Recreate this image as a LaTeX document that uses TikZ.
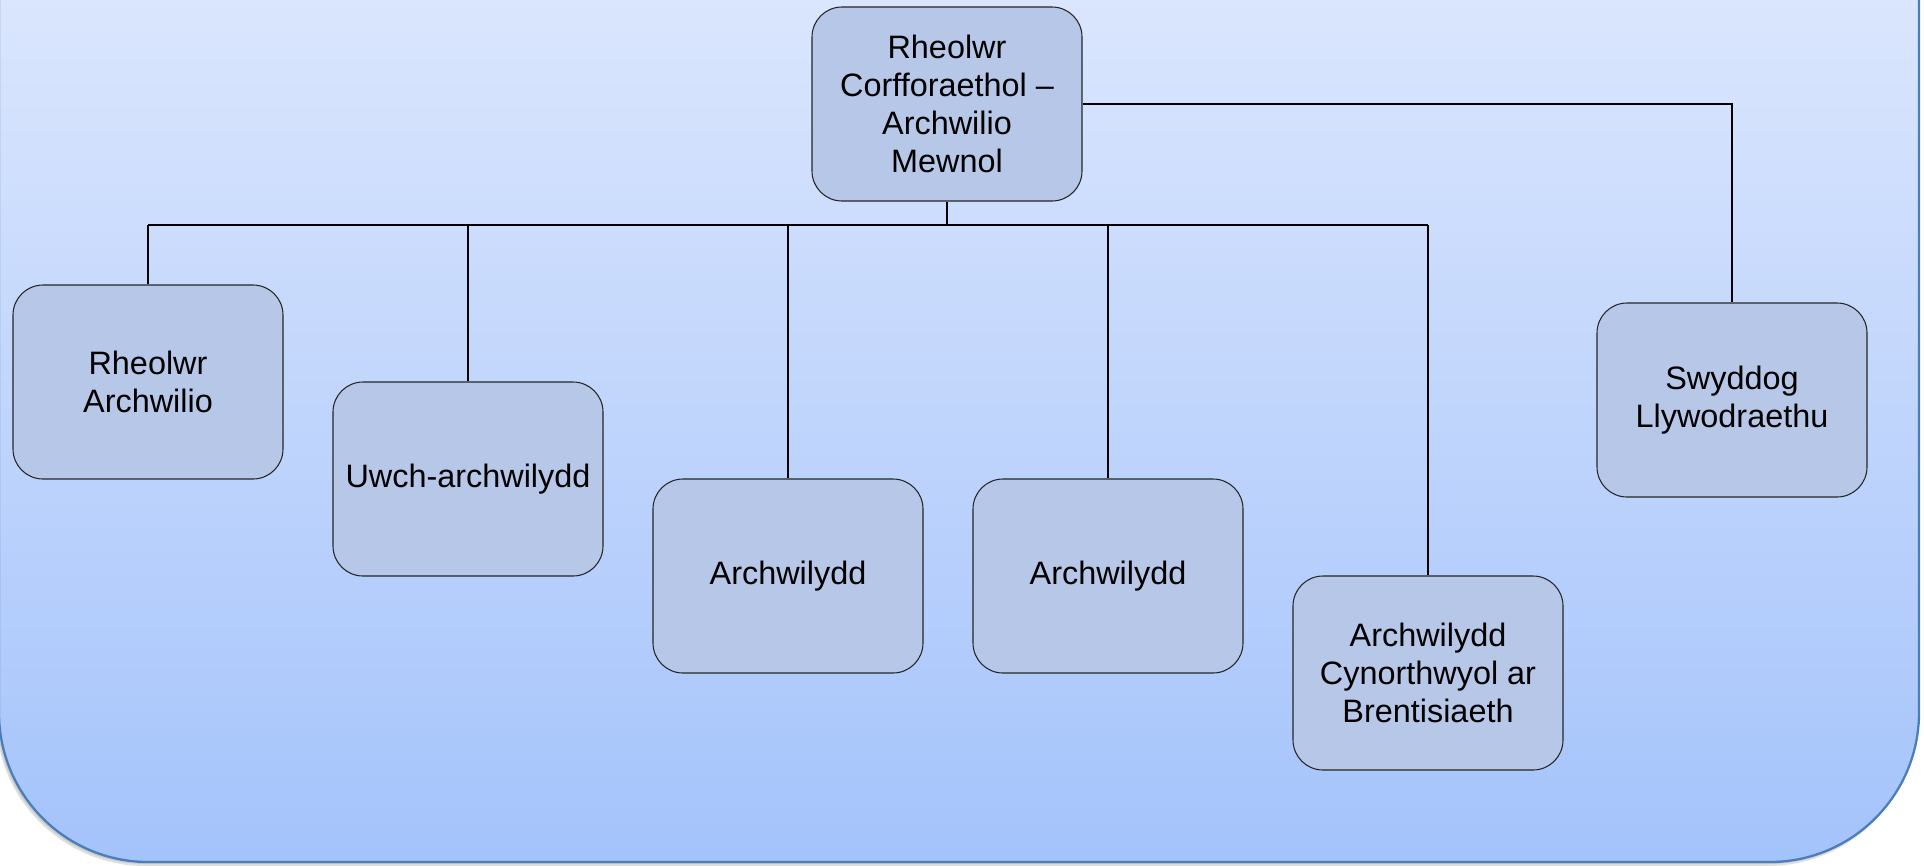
\documentclass[tikz,border=0pt]{standalone}
\usepackage{fontspec}
\setmainfont{Liberation Sans}
\begin{document}
\begin{tikzpicture}[x=0.75pt,y=-0.75pt,
  rolebox/.style={draw=black!85, line width=0.8pt, fill=boxfill, rectangle,
    rounded corners=22.5pt, minimum width=202.5pt, minimum height=145.5pt,
    align=center, inner sep=2pt, font=\fontsize{24.3}{28.3}\selectfont},
  conn/.style={draw=black, line width=1.9pt},
  busline/.style={draw=black, line width=2.2pt}]
\definecolor{boxfill}{RGB}{183,199,232}
\definecolor{bgtop}{RGB}{237,242,254}
\definecolor{bgbot}{RGB}{164,195,251}
\definecolor{bgborder}{RGB}{74,126,187}
\useasboundingbox (0,0) rectangle (1924,865);
\begin{scope}
\clip (0,0) rectangle (1924,865);
\fill[black, opacity=0.12, rounded corners=112pt] (-4,-300) rectangle (1917,866);
\fill[black, opacity=0.10, rounded corners=112pt] (-3,-300) rectangle (1918,864);
\path[top color=bgtop, bottom color=bgbot, draw=bgborder, line width=1.7pt,
  rounded corners=112pt] (-1,-300) rectangle (1919,862);
\end{scope}
\node[rolebox] (top) at (947,104) {Rheolwr\\Corfforaethol –\\Archwilio\\Mewnol};
\node[rolebox] (b1) at (148,382) {Rheolwr\\Archwilio};
\node[rolebox] (b2) at (468,479) {Uwch-archwilydd};
\node[rolebox] (b3) at (788,576) {Archwilydd};
\node[rolebox] (b4) at (1108,576) {Archwilydd};
\node[rolebox] (b5) at (1428,673) {Archwilydd\\Cynorthwyol ar\\Brentisiaeth};
\node[rolebox] (b6) at (1732,400) {Swyddog\\Llywodraethu};
\coordinate (busy) at (0,225);
\draw[conn] (top.south) -- (top.south |- busy);
\foreach \n in {b1,b2,b3,b4,b5}{
  \draw[conn] (\n.north) -- (\n.north |- busy);
}
\draw[busline] (b1.north |- busy) -- (b5.north |- busy);
\draw[conn] (top.east) -| (b6.north);
\end{tikzpicture}
\end{document}
